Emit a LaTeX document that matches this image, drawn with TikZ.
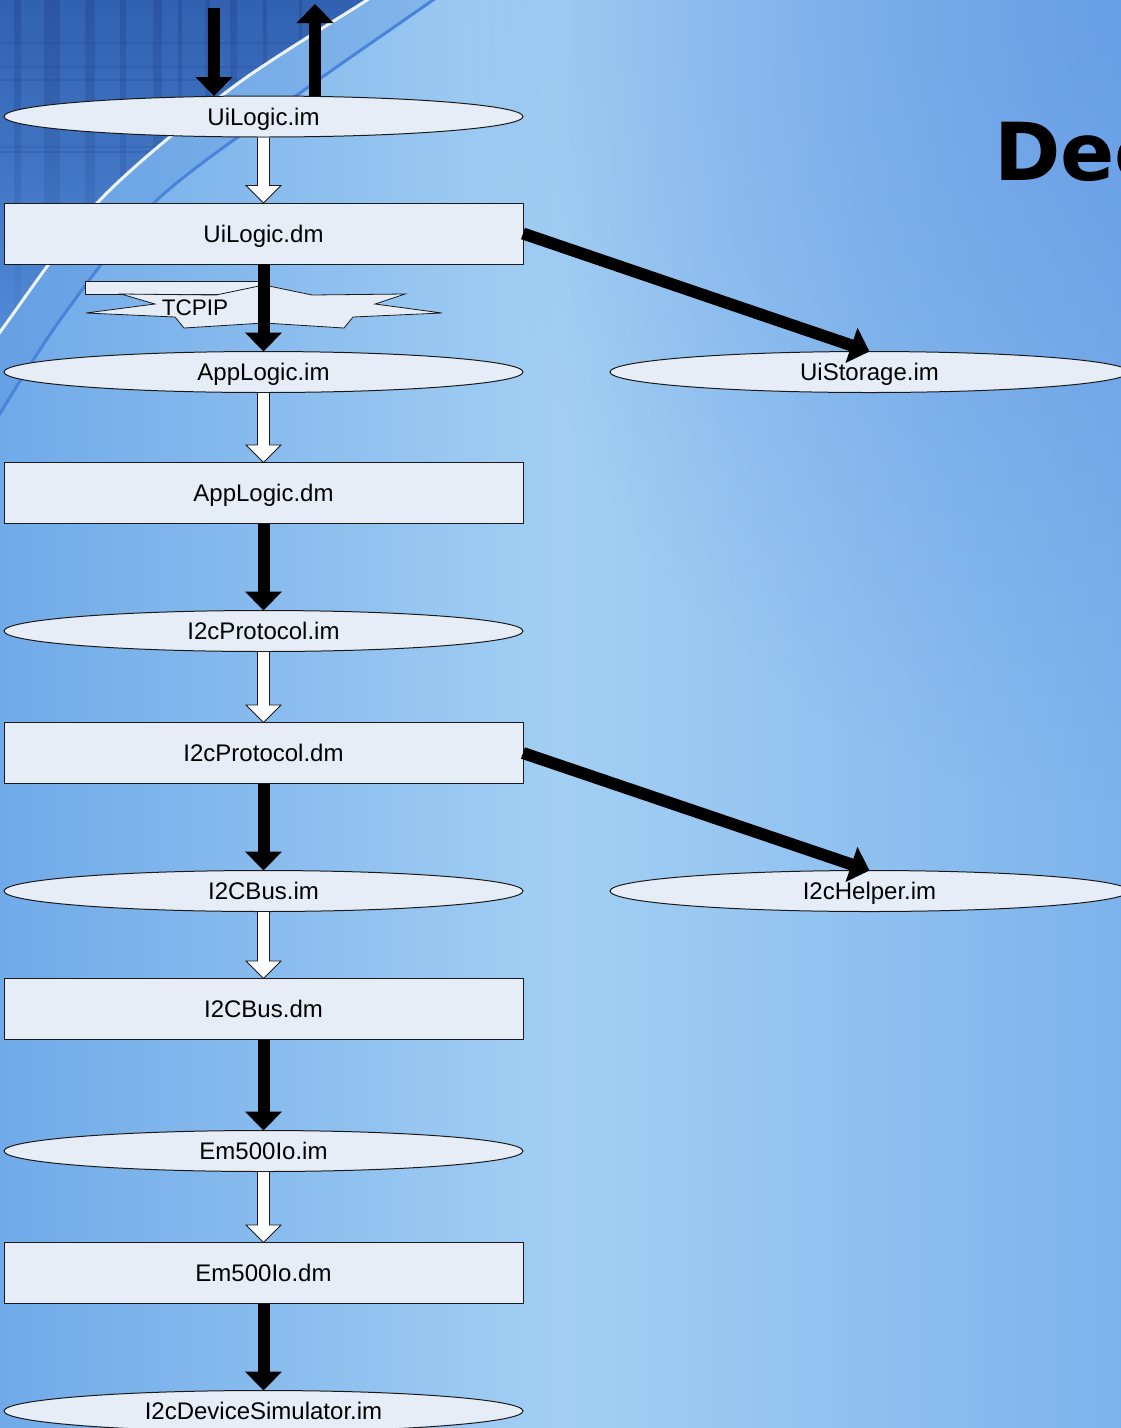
\documentclass[tikz,border=0pt]{standalone}
\usepackage{fontspec}
\setmainfont{Liberation Sans}
\newfontfamily\titlefont{DejaVu Sans}
\usetikzlibrary{shapes.geometric,arrows.meta,calc,fadings}

\tikzfading[name=cornerglow, inner color=transparent!0, outer color=transparent!100]

\definecolor{nodefill}{HTML}{E7EDF7}
\definecolor{bgleft}{HTML}{70AAE9}
\definecolor{bgmid}{HTML}{A3CFF3}
\definecolor{bgright}{HTML}{7DB3EC}
\definecolor{deepblue}{HTML}{5A90E2}
\definecolor{gridtop}{HTML}{2F5EAE}
\definecolor{gridlow}{HTML}{548FDA}
\definecolor{stripe}{HTML}{22408C}
\definecolor{arcblue}{HTML}{4A84D8}
\definecolor{edge}{HTML}{1A1A1A}

% open white arrow from the bottom of one node to the top of the next
\newcommand\hollowarrow[2]{%
  \draw[hollow] ($(#1.south)+(-6,0.5)$) -- ($(#2.north)+(-6,-17.5)$)
    -- ($(#2.north)+(-17.5,-17.5)$) -- (#2.north)
    -- ($(#2.north)+(17.5,-17.5)$) -- ($(#2.north)+(6,-17.5)$)
    -- ($(#1.south)+(6,0.5)$);}

\begin{document}
\begin{tikzpicture}[x=1pt,y=-1pt,
  every node/.style={font=\fontsize{24}{28}\selectfont, text height=17.2pt, text depth=0pt},
  imnode/.style={ellipse, draw=edge, line width=1pt, fill=nodefill,
    minimum width=519pt, minimum height=41pt, inner sep=0pt, outer sep=0pt},
  dmnode/.style={rectangle, draw=edge, line width=0.9pt, fill=nodefill,
    minimum width=519pt, minimum height=61pt, inner sep=0pt, outer sep=0pt},
  flow/.style={line width=12pt, black, -{Triangle[width=36pt,length=19pt]}},
  hollow/.style={draw=edge, line width=0.8pt, fill=white, line join=miter},
  banner/.style={draw=edge, line width=0.8pt, fill=nodefill, line join=miter},
]
\useasboundingbox (0,0) rectangle (1121,1428);
\begin{scope}
\clip (0,0) rectangle (1121,1428);

% slide background
\shade[left color=bgleft, right color=bgright, middle color=bgmid] (0,0) rectangle (1121,1428);
\fill[deepblue, opacity=.6, path fading=cornerglow] (1121,0) ellipse (650 and 800);

% dark gridded corner, top left
\begin{scope}
  \clip plot[smooth] coordinates {(-20,360) (0,332) (100,200) (233,87) (367,0) (395,-20)} -- (-20,-20) -- cycle;
  \shade[top color=gridtop, bottom color=gridlow] (-20,-20) rectangle (400,370);
  \foreach \sx/\sw in {17/7, 52/16, 90/10, 123/6, 157/9, 180/4, 207/5, 233/7, 265/4, 300/3}
    \fill[stripe, opacity=.35, path fading=south] ({\sx-\sw/2},0) rectangle ({\sx+\sw/2},360);
  \foreach \sy in {43, 67, 80, 147, 152}
    \draw[stripe, opacity=.22, line width=2pt] (0,\sy) -- (400,\sy);
\end{scope}
\fill[arcblue, opacity=.25] plot[smooth] coordinates {(-20,360) (0,332) (100,200) (233,87) (367,0) (395,-20)}
  -- plot[smooth] coordinates {(460,-20) (433,0) (300,93) (157,200) (60,320) (-10,430)} -- cycle;
\draw[white, line width=3pt, opacity=.9] plot[smooth] coordinates {(-20,360) (0,332) (100,200) (233,87) (367,0) (395,-20)};
\draw[arcblue, line width=3pt] plot[smooth] coordinates {(-10,430) (60,320) (157,200) (300,93) (433,0) (460,-20)};

% slide title, running off the right edge
\node[anchor=base west, inner sep=0pt, text height=, text depth=,
  font=\titlefont\bfseries\fontsize{80}{88}\selectfont] (title) at (994,180) {Dec};

% module chain
\node[imnode] (uim) at (263.5,116.5) {UiLogic.im};
\node[dmnode] (udm) at (263.5,233.5) {UiLogic.dm};
\node[imnode] (aim) at (263.5,372) {AppLogic.im};
\node[imnode] (sim) at (869.5,372) {UiStorage.im};
\node[dmnode] (adm) at (263.5,493) {AppLogic.dm};
\node[imnode] (pim) at (263.5,631) {I2cProtocol.im};
\node[dmnode] (pdm) at (263.5,753) {I2cProtocol.dm};
\node[imnode] (bim) at (263.5,891) {I2CBus.im};
\node[imnode] (him) at (869.5,891) {I2cHelper.im};
\node[dmnode] (bdm) at (263.5,1009) {I2CBus.dm};
\node[imnode] (eim) at (263.5,1151) {Em500Io.im};
\node[dmnode] (edm) at (263.5,1273) {Em500Io.dm};
\node[imnode] (dim) at (263.5,1411) {I2cDeviceSimulator.im};

% TCPIP banner between the UI and the application logic
\draw[banner] (85,281) rectangle (262,294);
\draw[banner] (121,294) -- (155,304) -- (86,313) -- (175,317) -- (184,328) -- (264,323)
  -- (344,328) -- (353,317) -- (442,313) -- (375,304) -- (405,294) -- (312,295)
  -- (264,285) -- (216,295) -- cycle;
\node[font=\fontsize{22.5}{26}\selectfont, text height=16.1pt, inner sep=0pt] (tcpip) at (195,307) {TCPIP};

% external input and output
\coordinate (inTop) at (214,8);
\coordinate (outTop) at (315,4);
\draw[flow] (inTop) -- (inTop |- uim.north);
\draw[flow] (outTop |- uim.north) -- (outTop);

% interface to implementation (open arrows)
\hollowarrow{uim}{udm}
\hollowarrow{aim}{adm}
\hollowarrow{pim}{pdm}
\hollowarrow{bim}{bdm}
\hollowarrow{eim}{edm}

% dependencies (solid arrows)
\draw[flow] (udm.south) -- (aim.north);
\draw[flow] (udm.east) -- (sim.north);
\draw[flow] (adm.south) -- (pim.north);
\draw[flow] (pdm.south) -- (bim.north);
\draw[flow] (pdm.east) -- (him.north);
\draw[flow] (bdm.south) -- (eim.north);
\draw[flow] (edm.south) -- (dim.north);
\end{scope}
\end{tikzpicture}
\end{document}
